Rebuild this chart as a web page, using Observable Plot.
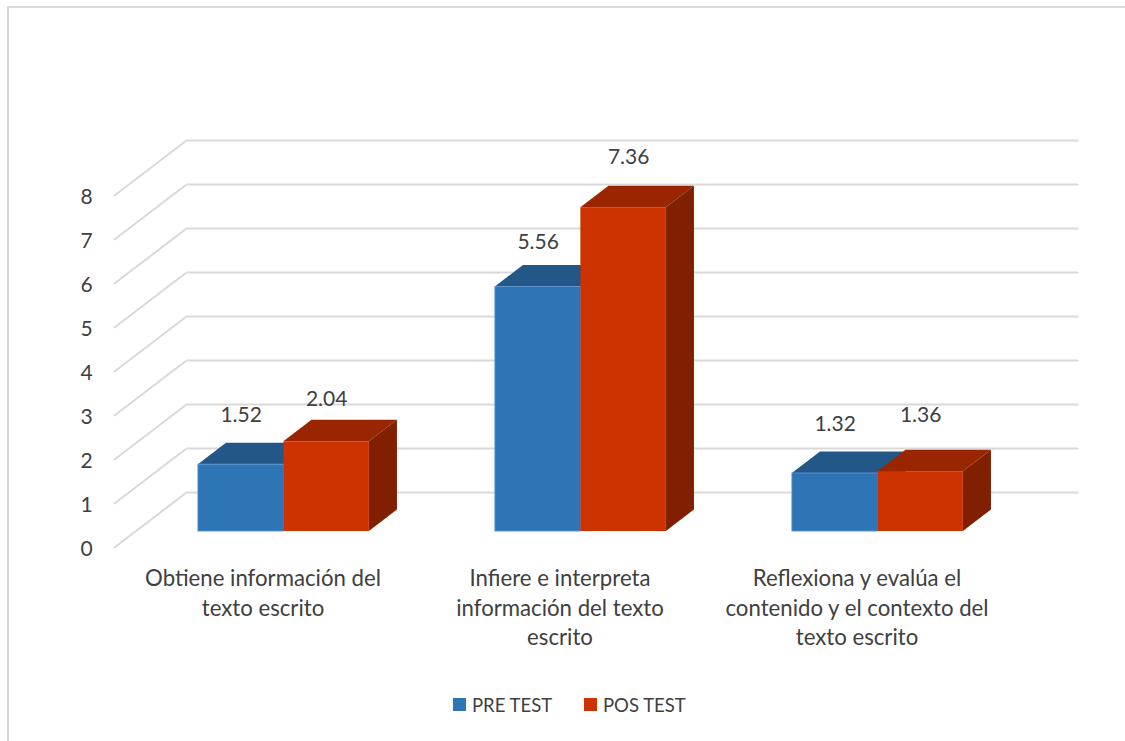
<!DOCTYPE html>
<html lang="es">
<head>
<meta charset="utf-8">
<script src="https://cdn.jsdelivr.net/npm/d3@7"></script>
<script src="https://cdn.jsdelivr.net/npm/@observablehq/plot@0.6"></script>
<style>
html,body{margin:0;padding:0;background:#fff;width:1125px;height:741px;overflow:hidden}
body{position:relative;font-family:Lato,sans-serif}
#frame{position:absolute;left:7px;top:6px;width:1118px;height:735px;border:2px solid #d9d9d9;border-bottom:0;border-right:0;box-sizing:border-box;pointer-events:none}
#chart{position:relative;height:672px}
#chart svg{display:block;background:transparent}
#legend{position:relative;height:69px;color:#404040;font-size:18.5px;line-height:19px}
#legend span{position:absolute;top:24px;white-space:nowrap}
#legend i{position:absolute;top:26px;width:13px;height:13px}
</style>
</head>
<body>
<div id="frame"></div>
<div id="chart"></div>
<div id="legend"></div>
<script>
const categories = ["Obtiene información del\ntexto escrito", "Infiere e interpreta\ninformación del texto\nescrito", "Reflexiona y evalúa el\ncontenido y el contexto del\ntexto escrito"];
const seriesNames = ["PRE TEST", "POS TEST"];
const preTest = [1.52, 5.56, 1.32];
const posTest = [2.04, 7.36, 1.36];
const yTicks = [0, 1, 2, 3, 4, 5, 6, 7, 8];

// Oblique projection of the chart's box: depth 0..1 shifts along x (category units) and y (value units)
const depthX = 72 / 297, depthY = 1.25;
const barFront = 0.29, barBack = 0.68, gap = 0.2121, barW = (1 - 2 * gap) / 2;
const px = (u, d) => u + d * depthX;
const py = (v, d) => v + d * depthY;

const colors = {
  "PRE TEST": {front: "#2e75b6", top: "#225788", side: "#1a4469", edge: "#5f9bd3"},
  "POS TEST": {front: "#cc3300", top: "#992600", side: "#802000", edge: "none"}
};
const grid = "#d9d9d9", ink = "#404040", font = "Lato, sans-serif";

const marks = [];
// wall + floor gridlines
for (const v of yTicks) {
  marks.push(Plot.line([[px(0, 0), py(v, 0)], [px(0, 1), py(v, 1)], [px(3, 1), py(v, 1)]], {stroke: grid, strokeWidth: 2}));
}
// bars
categories.forEach((c, i) => {
  seriesNames.forEach((name, s) => {
    const v = (s === 0 ? preTest : posTest)[i];
    const col = colors[name];
    const a = i + gap + s * barW, b = a + barW;
    marks.push(Plot.areaX([
      {y: py(v, barFront), x1: px(a, barFront), x2: px(b, barFront)},
      {y: py(v, barBack), x1: px(a, barBack), x2: px(b, barBack)}
    ], {y: "y", x1: "x1", x2: "x2", fill: col.top}));
    marks.push(Plot.areaY([
      {x: px(b, barFront), y1: py(0, barFront), y2: py(v, barFront)},
      {x: px(b, barBack), y1: py(0, barBack), y2: py(v, barBack)}
    ], {x: "x", y1: "y1", y2: "y2", fill: col.side}));
    marks.push(Plot.rect([{x1: px(a, barFront), x2: px(b, barFront), y1: py(0, barFront), y2: py(v, barFront)}],
      {x1: "x1", x2: "x2", y1: "y1", y2: "y2", fill: col.front, stroke: col.edge, strokeWidth: 0.8}));
  });
});
// value axis labels
marks.push(Plot.text(yTicks, {x: 0, y: d => d, text: d => String(d), dx: -28, dy: 2, fontSize: 21, fontFamily: font, fill: ink, textAnchor: "middle"}));
// category labels
marks.push(Plot.text(categories, {x: (d, i) => i + 0.5, y: 0, text: d => d, dy: 18, lineAnchor: "top", lineHeight: 1.32, fontSize: 22.2, fontFamily: font, fill: ink, textAnchor: "middle"}));
// data labels (nudges follow the hand-placed labels of the original)
const labelNudge = [[[0, -49], [0, -43]], [[0, -45], [5, -50]], [[0, -49], [0, -56]]];
categories.forEach((c, i) => {
  seriesNames.forEach((name, s) => {
    const v = (s === 0 ? preTest : posTest)[i];
    const a = i + gap + s * barW;
    marks.push(Plot.text([v], {x: px(a + barW / 2, barFront), y: py(v, barFront), text: d => d.toFixed(2),
      dx: labelNudge[i][s][0], dy: labelNudge[i][s][1], fontSize: 21, fontFamily: font, fill: ink, textAnchor: "middle"}));
  });
});

const H = 672;
const chart = Plot.plot({
  width: 1125, height: H,
  marginLeft: 114, marginRight: 48, marginTop: 140, marginBottom: H - 547,
  x: {type: "linear", domain: [0, 3 + depthX], axis: null},
  y: {type: "linear", domain: [0, 8 + depthY], axis: null},
  style: {background: "transparent", fontFamily: font},
  marks
});
document.getElementById("chart").appendChild(chart);

const legend = document.getElementById("legend");
[[453, 472], [584, 603]].forEach(([sx, tx], s) => {
  const name = seriesNames[s];
  const sw = document.createElement("i");
  sw.style.left = sx + "px";
  sw.style.background = colors[name].front;
  legend.appendChild(sw);
  const t = document.createElement("span");
  t.style.left = tx + "px";
  t.textContent = name;
  legend.appendChild(t);
});
</script>
</body>
</html>
